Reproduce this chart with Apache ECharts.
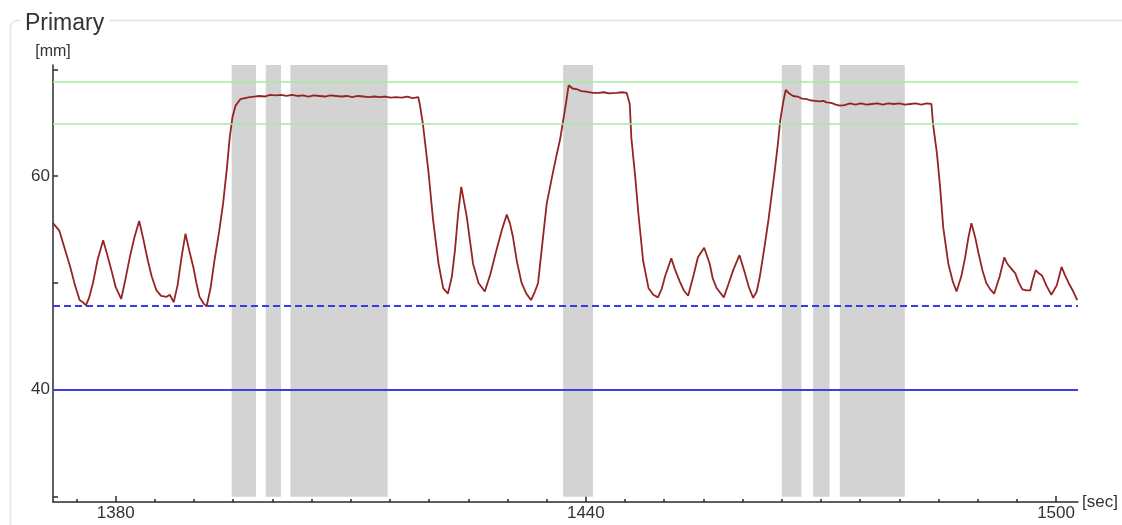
<!DOCTYPE html>
<html><head><meta charset="utf-8">
<script src="https://cdn.jsdelivr.net/npm/echarts@6/dist/echarts.min.js"></script>
<style>html,body{margin:0;padding:0;background:#fff}#c{width:1122px;height:525px}</style>
</head><body><div id="c"></div>
<script>
// ---- data ----
const times = [
1372.0,1372.8,1373.5,1374.2,1374.8,1375.4,1375.8,1376.2,1376.6,1377.1,1377.7,1378.4,1378.9,1379.45,1380.0,1380.7,
1381.2,1381.8,1382.4,1383.0,1383.5,1384.1,1384.6,1385.2,1385.8,1386.5,1386.9,1387.4,1387.9,1388.4,1388.9,1389.4,
1389.9,1390.3,1390.7,1391.2,1391.6,1392.1,1392.6,1393.2,1393.7,1394.2,1394.55,1394.9,1395.3,1395.9,1396.5,1397.1,
1397.7,1398.3,1399.0,1399.7,1400.4,1401.1,1401.8,1402.5,1403.2,1403.9,1404.6,1405.3,1406.0,1406.7,1407.4,1408.1,
1408.8,1409.5,1410.2,1410.9,1411.6,1412.3,1413.0,1413.7,1414.4,1415.1,1415.8,1416.5,1417.2,1417.9,1418.6,1418.8,
1419.2,1419.9,1420.5,1421.2,1421.8,1422.4,1422.9,1423.3,1423.7,1424.1,1424.4,1424.8,1425.6,1426.3,1427.1,1427.8,
1428.6,1429.3,1429.9,1430.3,1430.7,1431.2,1431.8,1432.4,1433.0,1433.5,1433.9,1434.4,1435.0,1435.7,1436.3,1436.7,
1437.1,1437.5,1437.8,1438.3,1438.8,1439.4,1440.0,1440.9,1441.6,1442.3,1443.0,1443.9,1444.6,1445.2,1445.6,1445.8,
1446.3,1446.7,1447.3,1448.0,1448.6,1449.2,1449.7,1450.1,1450.9,1451.4,1452.0,1452.5,1453.05,1453.7,1454.3,1455.1,
1455.8,1456.2,1456.7,1457.6,1458.2,1458.8,1459.6,1460.3,1460.8,1461.35,1461.8,1462.2,1462.8,1463.3,1463.7,1464.1,
1464.5,1464.8,1465.2,1465.5,1466.0,1466.45,1467.0,1467.6,1468.2,1468.6,1469.2,1469.8,1470.3,1470.7,1471.3,1471.9,
1472.4,1473.0,1473.7,1474.4,1475.1,1475.8,1476.5,1477.2,1477.9,1478.6,1479.3,1480.0,1480.7,1481.4,1482.1,1482.8,
1483.5,1484.1,1484.3,1484.8,1485.2,1485.6,1486.25,1486.8,1487.3,1487.9,1488.4,1488.8,1489.2,1489.7,1490.1,1490.6,
1491.1,1491.6,1492.1,1492.8,1493.4,1493.7,1494.1,1494.8,1495.2,1495.7,1496.2,1496.7,1497.0,1497.4,1497.8,1498.2,
1498.8,1499.4,1500.1,1500.7,1501.1,1501.6,1502.2,1502.7
];
const values = [
55.6,54.9,53.2,51.5,49.8,48.4,48.2,47.9,48.6,50.0,52.2,54.0,52.7,51.2,49.6,48.5,
50.2,52.4,54.3,55.8,54.2,52.1,50.6,49.3,48.8,48.7,48.9,48.2,49.8,52.4,54.6,53.0,
51.5,50.0,48.7,48.1,47.8,49.5,52.1,54.8,57.4,60.8,63.6,65.5,66.6,67.2,67.3,67.4,
67.45,67.5,67.45,67.6,67.55,67.6,67.5,67.6,67.5,67.55,67.45,67.55,67.5,67.45,67.55,67.5,
67.45,67.5,67.4,67.5,67.45,67.4,67.45,67.4,67.45,67.35,67.4,67.35,67.45,67.3,67.4,66.75,
64.9,60.5,55.9,51.8,49.5,49.0,50.6,53.1,56.5,59.0,57.8,56.2,51.8,50.0,49.2,50.8,
53.1,55.0,56.4,55.6,54.3,52.0,50.0,49.0,48.4,49.2,50.0,53.4,57.4,60.0,62.1,63.4,
65.2,67.0,68.5,68.2,68.15,67.95,67.9,67.8,67.8,67.85,67.75,67.8,67.85,67.8,66.75,63.6,
59.9,56.5,52.1,49.5,48.9,48.65,49.5,50.6,52.3,51.2,50.1,49.3,48.8,50.6,52.4,53.3,
51.8,50.4,49.5,48.65,49.9,51.2,52.6,50.9,49.6,48.6,49.2,50.6,53.4,55.9,58.2,60.5,
63.0,65.2,67.0,68.06,67.7,67.5,67.45,67.25,67.2,67.1,67.05,67.0,67.05,66.9,66.85,66.7,
66.6,66.65,66.8,66.7,66.8,66.7,66.75,66.8,66.7,66.8,66.75,66.8,66.7,66.75,66.8,66.7,
66.8,66.75,64.9,62.1,59.0,55.2,51.8,50.2,49.2,50.6,52.4,54.2,55.6,54.2,52.8,51.2,
50.0,49.4,49.0,50.6,52.4,51.9,51.5,50.9,50.1,49.4,49.3,49.3,50.2,51.2,50.9,50.7,
49.7,48.9,49.8,51.5,50.8,50.0,49.2,48.4
];
const bandStarts = [1394.8, 1399.15, 1402.3, 1437.1, 1465.0, 1469.0, 1472.4];
const bandEnds   = [1397.9, 1401.1, 1414.7, 1440.9, 1467.5, 1471.1, 1480.7];
const greenLimits = [68.8, 64.9];
const dashedLimit = 47.9;
const solidLimit = 40;
const xMinorTicks = [1375,1380,1385,1390,1395,1400,1405,1410,1415,1420,1425,1430,1435,1440,1445,1450,1455,1460,1465,1470,1475,1480,1485,1490,1495,1500];
const xLabels = [1380, 1440, 1500];
const yTicks = [30, 40, 50, 60, 70];
const yLabels = [40, 60];
const xRange = [1372, 1502.8];
const yRange = [29.5, 70.4];
const bandBottom = 30;

// ---- chart ----
const chart = echarts.init(document.getElementById('c'), null, {renderer: 'canvas'});
const FONT = 'Liberation Sans, Arial, sans-serif';
const axisCol = '#2b2b2b';
const textCol = '#333333';
const plain = v => String(v);

const bandData = bandStarts.map((s, i) => [{xAxis: s, yAxis: bandBottom}, {xAxis: bandEnds[i], yAxis: yRange[1]}]);
const limitLines = [
  ...greenLimits.map(v => ({yAxis: v, lineStyle: {color: '#a3ee9c', width: 1.5, type: 'solid'}})),
  {yAxis: dashedLimit, lineStyle: {color: '#3b3be6', width: 2, type: [7, 4]}},
  {yAxis: solidLimit, lineStyle: {color: '#3d3de8', width: 2, type: 'solid'}}
];

chart.setOption({
  animation: false,
  backgroundColor: '#fff',
  textStyle: {fontFamily: FONT},
  title: {
    text: 'Primary', left: 20, top: 12, padding: [0, 5],
    backgroundColor: '#fff',
    textStyle: {fontSize: 23, fontWeight: 'normal', color: textCol, fontFamily: FONT}
  },
  graphic: [{
    type: 'rect', z: -10, silent: true,
    shape: {x: 10.5, y: 20.5, width: 1300, height: 700, r: 7},
    style: {fill: 'none', stroke: '#e0e4ea', lineWidth: 1.5}
  }],
  grid: {left: 53, right: 44, top: 65, bottom: 23},
  xAxis: [{
    type: 'value', min: xRange[0], max: xRange[1],
    name: '[sec]', nameLocation: 'end', nameGap: 4,
    nameTextStyle: {fontSize: 17, color: textCol, verticalAlign: 'middle', align: 'left'},
    axisLine: {show: true, onZero: false, lineStyle: {color: axisCol, width: 1.5}},
    axisTick: {show: true, inside: true, length: 3, customValues: xMinorTicks, lineStyle: {color: axisCol, width: 1.5}},
    axisLabel: {show: false},
    splitLine: {show: false}
  }, {
    type: 'value', min: xRange[0], max: xRange[1], position: 'bottom',
    axisLine: {show: false, onZero: false},
    axisTick: {show: true, inside: true, length: 6, customValues: xLabels, lineStyle: {color: axisCol, width: 1.5}},
    axisLabel: {show: true, customValues: xLabels, formatter: plain, fontSize: 17, color: textCol, margin: 3},
    splitLine: {show: false}
  }],
  yAxis: {
    type: 'value', min: yRange[0], max: yRange[1],
    name: '[mm]', nameLocation: 'end', nameGap: 5,
    nameTextStyle: {fontSize: 16, color: textCol, align: 'center'},
    axisLine: {show: true, onZero: false, lineStyle: {color: axisCol, width: 1.5}},
    axisTick: {show: true, inside: true, length: 5, customValues: yTicks, lineStyle: {color: axisCol, width: 1.5}},
    axisLabel: {show: true, customValues: yLabels, formatter: plain, fontSize: 17, color: textCol, margin: 3},
    splitLine: {show: false}
  },
  series: [{
    type: 'line', name: 'bands', data: [], z: 1, silent: true,
    markArea: {silent: true, itemStyle: {color: '#d3d3d3', opacity: 1}, data: bandData}
  }, {
    type: 'line', name: 'limits', data: [], z: 2, silent: true,
    markLine: {silent: true, symbol: ['none', 'none'], label: {show: false}, data: limitLines}
  }, {
    type: 'line', name: 'Primary', z: 3,
    data: times.map((t, i) => [t, values[i]]),
    showSymbol: false, smooth: false,
    lineStyle: {color: '#962424', width: 1.8}
  }]
});
</script></body></html>
